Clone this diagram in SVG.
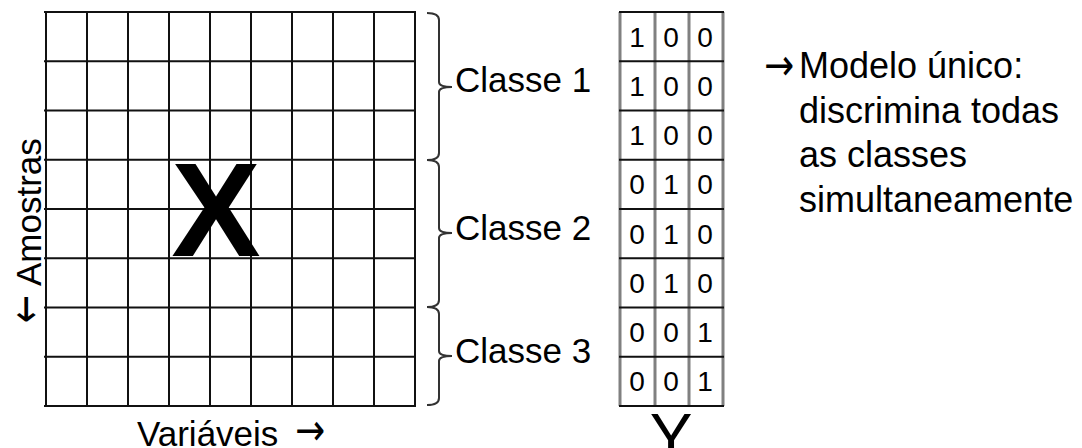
<svg xmlns="http://www.w3.org/2000/svg" width="1082" height="448" viewBox="0 0 1082 448">
<style>
.g{stroke:#111;stroke-width:2;fill:none}
.gy{stroke:#808080;stroke-width:3;fill:none}
.br{stroke:#333;stroke-width:2;fill:none}
.t{font-family:"Liberation Sans",Arial,sans-serif;fill:#000}
.ar{font-family:"DejaVu Sans",sans-serif;font-size:44px;fill:#000}
.d{font-family:"Liberation Sans",Arial,sans-serif;font-size:28px;fill:#000;text-anchor:middle}
</style>
<rect width="1082" height="448" fill="#fff"/>
<g id="matrixX">
<path class="g" d="M46,12V406M87,12V406M128,12V406M169,12V406M210,12V406M251,12V406M292,12V406M333,12V406M374,12V406M415,12V406"/>
<path class="g" d="M44,12H416M44,61.25H416M44,110.5H416M44,159.75H416M44,209H416M44,258.25H416M44,307.5H416M44,356.75H416M44,406H416"/>
<text class="t" x="216" y="256" font-size="134" font-weight="bold" text-anchor="middle">X</text>
</g>
<g id="labelAmostras" transform="translate(41,323) rotate(-90)">
<text class="ar" x="0" y="-1" textLength="28" lengthAdjust="spacingAndGlyphs">←</text>
<text class="t" font-size="35" x="37" y="0">Amostras</text>
</g>
<g id="labelVariaveis">
<text class="t" font-size="35" x="137" y="446">Variáveis</text>
<text class="ar" x="295" y="445" textLength="30" lengthAdjust="spacingAndGlyphs">→</text>
</g>
<g id="connectors">
<path class="br" d="M427,13Q439,13 439,20L439,82Q439,87 452,87M452,87Q439,87 439,92L439,153Q439,160 427,160"/>
<path class="br" d="M427,160Q439,160 439,167L439,228Q439,233 452,233M452,233Q439,233 439,238L439,300Q439,307 427,307"/>
<path class="br" d="M427,307Q439,307 439,314L439,351Q439,356 452,356M452,356Q439,356 439,361L439,398Q439,405 427,405"/>
</g>
<g id="classe1"><text class="t" font-size="35" x="455" y="92">Classe 1</text></g>
<g id="classe2"><text class="t" font-size="35" x="455" y="240">Classe 2</text></g>
<g id="classe3"><text class="t" font-size="35" x="455" y="363">Classe 3</text></g>
<g id="matrixY">
<path class="gy" d="M620,12V406M655,12V406M689,12V406M723,12V406"/>
<path class="g" d="M619,12H724M619,61.25H724M619,110.5H724M619,159.75H724M619,209H724M619,258.25H724M619,307.5H724M619,356.75H724M619,406H724"/>
<text class="d" x="637" y="46.6">1</text><text class="d" x="671" y="46.6">0</text><text class="d" x="705" y="46.6">0</text>
<text class="d" x="637" y="95.9">1</text><text class="d" x="671" y="95.9">0</text><text class="d" x="705" y="95.9">0</text>
<text class="d" x="637" y="145.1">1</text><text class="d" x="671" y="145.1">0</text><text class="d" x="705" y="145.1">0</text>
<text class="d" x="637" y="194.4">0</text><text class="d" x="671" y="194.4">1</text><text class="d" x="705" y="194.4">0</text>
<text class="d" x="637" y="243.6">0</text><text class="d" x="671" y="243.6">1</text><text class="d" x="705" y="243.6">0</text>
<text class="d" x="637" y="292.9">0</text><text class="d" x="671" y="292.9">1</text><text class="d" x="705" y="292.9">0</text>
<text class="d" x="637" y="342.1">0</text><text class="d" x="671" y="342.1">0</text><text class="d" x="705" y="342.1">1</text>
<text class="d" x="637" y="391.4">0</text><text class="d" x="671" y="391.4">0</text><text class="d" x="705" y="391.4">1</text>
<text class="t" x="671" y="459" font-size="64" text-anchor="middle">Y</text>
</g>
<g id="note">
<text class="ar" x="764" y="80" textLength="30" lengthAdjust="spacingAndGlyphs">→</text>
<text class="t" font-size="36"><tspan x="799" y="78">Modelo único:</tspan><tspan x="799" y="123">discrimina todas</tspan><tspan x="799" y="167">as classes</tspan><tspan x="799" y="212">simultaneamente</tspan></text>
</g>
</svg>
